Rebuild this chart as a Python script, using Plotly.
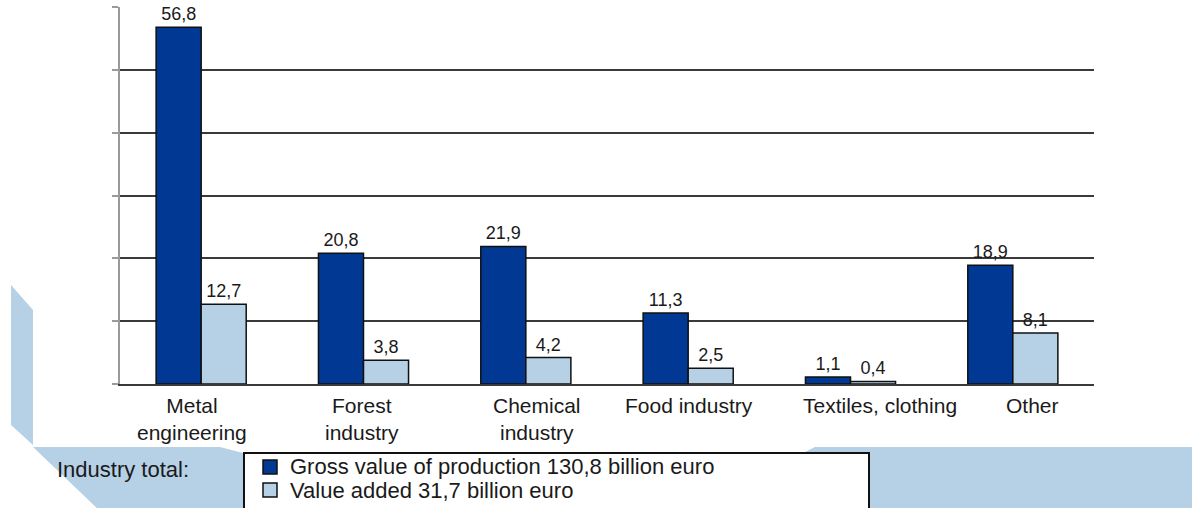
import plotly.graph_objects as go

categories = ["Metal engineering", "Forest industry", "Chemical industry",
              "Food industry", "Textiles, clothing", "Other"]
cat_labels = ["Metal<br>engineering", "Forest<br>industry", "Chemical<br>industry",
              "Food industry", "Textiles, clothing", "Other"]
gross_value = [56.8, 20.8, 21.9, 11.3, 1.1, 18.9]
value_added = [12.7, 3.8, 4.2, 2.5, 0.4, 8.1]
series_names = ["Gross value of production 130,8 billion euro",
                "Value added 31,7 billion euro"]
y_ticks = [0, 10, 20, 30, 40, 50, 60]

# style
W, H = 1192, 508
ML, MR, MT, MB = 120, 98, 7, 124
PW, PH = W - ML - MR, H - MT - MB
DARK = "#003893"
LIGHT = "#b6d0e6"
BG_BLUE = "#b6d0e6"
TXT = "#1a1a1a"
FONT = "Liberation Sans, Arial, sans-serif"
label_dx = [-9, -2, 11, 1, 29, 20]
series_colors = [DARK, LIGHT]
legend_rows = [467, 490]


def fmt(v):
    return f"{v:.1f}".replace(".", ",")


def px(x):
    return (x - ML) / PW


def py(y):
    return (H - MB - y) / PH


def poly(points):
    d = "M " + " L ".join(f"{px(x):.5f},{py(y):.5f}" for x, y in points) + " Z"
    return d


fig = go.Figure()
for name, vals, col in zip(series_names, [gross_value, value_added], series_colors):
    fig.add_trace(go.Bar(
        x=categories, y=vals, name=name,
        marker=dict(color=col, line=dict(color="#111", width=1.5)),
        text=[fmt(v) for v in vals], textposition="outside",
        textfont=dict(size=18, color=TXT, family=FONT),
        constraintext="none", cliponaxis=False,
    ))

shapes = [
    dict(type="path", xref="paper", yref="paper", layer="below",
         path=poly([(11, 285), (33, 310), (33, 445), (11, 425)]),
         fillcolor=BG_BLUE, line=dict(width=0)),
    dict(type="path", xref="paper", yref="paper", layer="below",
         path=poly([(33, 447), (220, 447), (243, 453), (803, 453), (815, 447),
                    (1195, 447), (1195, 512), (101, 512)]),
         fillcolor=BG_BLUE, line=dict(width=0)),
    dict(type="rect", xref="paper", yref="paper", layer="below",
         x0=px(244), x1=px(869), y0=py(453), y1=py(515),
         fillcolor="white", line=dict(color="#111", width=2)),
]

annotations = []
for c, lab, dx in zip(categories, cat_labels, label_dx):
    annotations.append(dict(
        x=c, y=0, xref="x", yref="y", text=lab, showarrow=False,
        xanchor="center", yanchor="top", yshift=-8, xshift=dx,
        font=dict(size=21, color=TXT, family=FONT), align="center"))
annotations.append(dict(
    x=px(55), y=py(470), xref="paper", yref="paper", text="Industry total:",
    showarrow=False, xanchor="left", yanchor="middle",
    font=dict(size=22, color=TXT, family=FONT)))

# legend entries (drawn inside the framed box)
for name, col, row in zip(series_names, series_colors, legend_rows):
    shapes.append(dict(type="rect", xref="paper", yref="paper",
                       x0=px(263), x1=px(277), y0=py(row - 7), y1=py(row + 7),
                       fillcolor=col, line=dict(color="#111", width=1.5)))
    annotations.append(dict(
        x=px(288), y=py(row), xref="paper", yref="paper", text=name,
        showarrow=False, xanchor="left", yanchor="middle",
        font=dict(size=22, color=TXT, family=FONT)))

fig.update_layout(
    width=W, height=H,
    margin=dict(l=ML, r=MR, t=MT, b=MB, autoexpand=False),
    paper_bgcolor="white", plot_bgcolor="white",
    barmode="group", bargap=0.445, bargroupgap=0,
    showlegend=False,
    shapes=shapes, annotations=annotations,
    xaxis=dict(showticklabels=False, showgrid=False, zeroline=False,
               showline=True, linecolor="#3a3a3a", linewidth=2, ticks=""),
    yaxis=dict(range=[0, 60.02], tickvals=y_ticks, showticklabels=False,
               showgrid=True, gridcolor="#3a3a3a", gridwidth=2,
               zeroline=False, showline=True, linecolor="#9a9a9a", linewidth=2,
               ticks="outside", ticklen=6, tickcolor="#9a9a9a", tickwidth=2),
)

fig.write_html("out.html")
